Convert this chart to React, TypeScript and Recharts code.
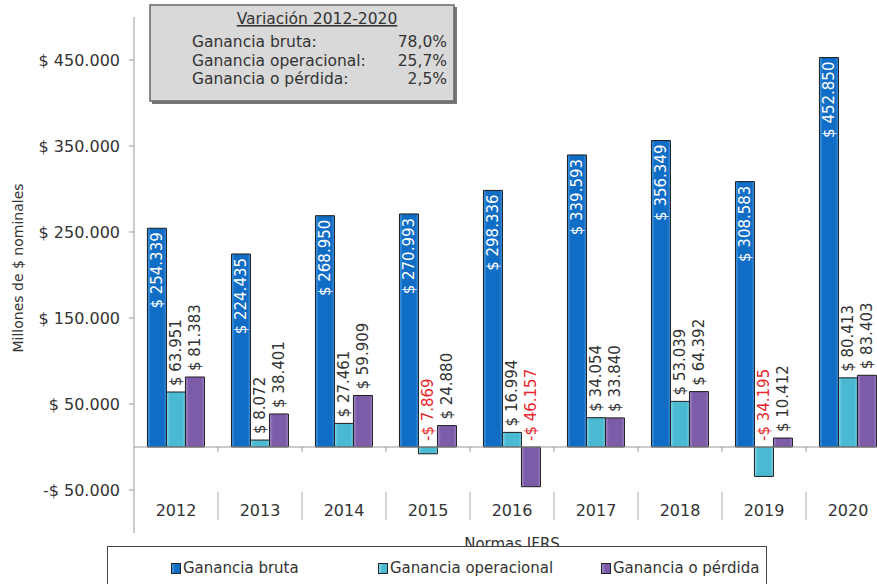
import React from 'react';
import { BarChart, Bar, XAxis, YAxis, ReferenceLine, LabelList, Legend } from 'recharts';

const years = ['2012', '2013', '2014', '2015', '2016', '2017', '2018', '2019', '2020'];
const gananciaBruta = [254339, 224435, 268950, 270993, 298336, 339593, 356349, 308583, 452850];
const gananciaOperacional = [63951, 8072, 27461, -7869, 16994, 34054, 53039, -34195, 80413];
const gananciaPerdida = [81383, 38401, 59909, 24880, -46157, 33840, 64392, 10412, 83403];
const yTicks = [-50000, 50000, 150000, 250000, 350000, 450000];
const variacionTitle = 'Variación 2012-2020';
const variacionLabels = ['Ganancia bruta:', 'Ganancia operacional:', 'Ganancia o pérdida:'];
const variacionValues = ['78,0%', '25,7%', '2,5%'];
const seriesKeys = ['bruta', 'operacional', 'perdida'];
const seriesNames = ['Ganancia bruta', 'Ganancia operacional', 'Ganancia o pérdida'];

const data = years.map((y, i) => ({
  year: y,
  bruta: gananciaBruta[i],
  operacional: gananciaOperacional[i],
  perdida: gananciaPerdida[i],
}));

const FONT = '"DejaVu Sans", Verdana, sans-serif';
const CHART_W = 900;
const CHART_H = 584;
const PLOT_TOP = 17;
const PLOT_BOTTOM = 533;
const PLOT_LEFT = 134;
const PLOT_RIGHT = 890;
const Y_MIN = -100000;
const Y_MAX = 500000;
const CAT_W = (PLOT_RIGHT - PLOT_LEFT) / years.length;
const ZERO_Y = PLOT_TOP + ((Y_MAX - 0) / (Y_MAX - Y_MIN)) * (PLOT_BOTTOM - PLOT_TOP);

const COLORS: Record<string, string> = { bruta: '#0F6DC6', operacional: '#4ABAD3', perdida: '#7C5BA8' };
const EDGE: Record<string, string> = { bruta: '#4A98E0', operacional: '#86D6EA', perdida: '#A58BCB' };

const fmt = (v: number) => {
  const s = Math.abs(v).toString().replace(/\B(?=(\d{3})+(?!\d))/g, '.');
  return (v < 0 ? '-' : '') + '$ ' + s;
};

const CategoryTick = (props: any) => {
  const { x, payload, index } = props;
  const half = CAT_W / 2;
  return (
    <g>
      <text x={x} y={516} textAnchor="middle" fontSize={16} fill="#333" fontFamily={FONT}>
        {payload.value}
      </text>
      {index < years.length - 1 && (
        <>
          <line x1={x + half} x2={x + half} y1={492} y2={520} stroke="#aaa" strokeWidth={1} />
          <line x1={x + half} x2={x + half} y1={ZERO_Y} y2={ZERO_Y + 5} stroke="#999" strokeWidth={1} />
        </>
      )}
    </g>
  );
};

const makeLabel = (inside: boolean) => (props: any) => {
  const { x, y, width, height, value } = props;
  const top = Math.min(y, y + height);
  const cx = x + width / 2;
  if (inside) {
    const ys = top + 4;
    return (
      <text
        x={cx}
        y={ys}
        transform={`rotate(-90, ${cx}, ${ys})`}
        textAnchor="end"
        dominantBaseline="central"
        fontSize={15}
        fill="#ffffff"
        fontFamily={FONT}
      >
        {fmt(value)}
      </text>
    );
  }
  const ys = top - 6;
  return (
    <text
      x={cx}
      y={ys}
      transform={`rotate(-90, ${cx}, ${ys})`}
      textAnchor="start"
      dominantBaseline="central"
      fontSize={15}
      fill={value < 0 ? '#E8262B' : '#333333'}
      fontFamily={FONT}
    >
      {fmt(value)}
    </text>
  );
};

const legendLeft = [63, 270, 493];

const LegendBox = (props: any) => {
  const payload = props.payload || [];
  return (
    <div
      style={{
        boxSizing: 'border-box',
        width: 660,
        height: 50,
        border: '1px solid #444',
        background: '#fff',
        position: 'relative',
        fontFamily: FONT,
        fontSize: 15,
        color: '#333',
      }}
    >
      {seriesKeys.map((key, i) => {
        const entry = payload.find((p: any) => p.dataKey === key);
        return (
          <div
            key={key}
            style={{ position: 'absolute', left: legendLeft[i], top: 12, display: 'flex', alignItems: 'center', whiteSpace: 'nowrap' }}
          >
            <span
              style={{
                display: 'inline-block',
                width: 8,
                height: 9,
                background: `linear-gradient(to right, ${EDGE[key]}, ${COLORS[key]} 40%, ${COLORS[key]})`,
                border: '1px solid #222',
                marginRight: 2,
              }}
            />
            <span>{entry ? entry.value : seriesNames[i]}</span>
          </div>
        );
      })}
    </div>
  );
};

export default function App() {
  return (
    <div
      style={{
        position: 'fixed',
        left: 0,
        top: 0,
        width: 877,
        height: 584,
        overflow: 'hidden',
        background: '#fff',
        fontFamily: FONT,
      }}
    >
      <BarChart
        width={CHART_W}
        height={CHART_H}
        data={data}
        margin={{ top: PLOT_TOP, right: CHART_W - PLOT_RIGHT, left: 0, bottom: CHART_H - PLOT_BOTTOM - 1 }}
        barCategoryGap="16%"
        barGap={0}
      >
        <defs>
          {seriesKeys.map((k) => (
            <linearGradient key={k} id={`grad-${k}`} x1="0" y1="0" x2="1" y2="0">
              <stop offset="0%" stopColor={EDGE[k]} />
              <stop offset="18%" stopColor={COLORS[k]} />
              <stop offset="85%" stopColor={COLORS[k]} />
              <stop offset="100%" stopColor={EDGE[k]} />
            </linearGradient>
          ))}
        </defs>
        <XAxis
          dataKey="year"
          height={1}
          axisLine={false}
          tickLine={false}
          interval={0}
          tick={<CategoryTick />}
          label={{
            content: () => (
              <text x={512} y={549} textAnchor="middle" fontSize={15} fill="#333" fontFamily={FONT}>
                Normas IFRS
              </text>
            ),
          }}
        />
        <YAxis
          width={PLOT_LEFT}
          domain={[Y_MIN, Y_MAX]}
          ticks={yTicks}
          interval={0}
          allowDataOverflow
          tickSize={5}
          tickMargin={9}
          axisLine={{ stroke: '#999' }}
          tickLine={{ stroke: '#999' }}
          tick={{ fontSize: 16, fill: '#333', fontFamily: FONT }}
          tickFormatter={(v: number) => fmt(v)}
          label={{
            content: () => (
              <text
                x={18}
                y={268}
                transform="rotate(-90, 18, 268)"
                textAnchor="middle"
                dominantBaseline="central"
                fontSize={14}
                fill="#333"
                fontFamily={FONT}
              >
                Millones de $ nominales
              </text>
            ),
          }}
        />
        <ReferenceLine y={0} stroke="#999" strokeWidth={1} />
        <Bar dataKey="bruta" name={seriesNames[0]} fill="url(#grad-bruta)" stroke="#1c1c1c" strokeWidth={1} isAnimationActive={false}>
          <LabelList dataKey="bruta" content={makeLabel(true)} />
        </Bar>
        <Bar dataKey="operacional" name={seriesNames[1]} fill="url(#grad-operacional)" stroke="#1c1c1c" strokeWidth={1} isAnimationActive={false}>
          <LabelList dataKey="operacional" content={makeLabel(false)} />
        </Bar>
        <Bar dataKey="perdida" name={seriesNames[2]} fill="url(#grad-perdida)" stroke="#1c1c1c" strokeWidth={1} isAnimationActive={false}>
          <LabelList dataKey="perdida" content={makeLabel(false)} />
        </Bar>
        <Legend
          layout="horizontal"
          verticalAlign="middle"
          align="center"
          wrapperStyle={{ left: 107, top: 546, width: 660, height: 50 }}
          content={(p: any) => <LegendBox payload={p.payload} />}
        />
      </BarChart>
      <svg
        width={877}
        height={110}
        style={{ position: 'absolute', left: 0, top: 0, pointerEvents: 'none' }}
        fontFamily={FONT}
      >
        <rect x={152} y={7} width={305} height={97} fill="#777" />
        <rect x={150} y={5} width={304} height={96} fill="#D9D9D9" stroke="#666" strokeWidth={1.5} />
        <text x={317} y={24} textAnchor="middle" fontSize={15.5} fill="#333" textDecoration="underline">
          {variacionTitle}
        </text>
        {variacionLabels.map((l, i) => (
          <g key={l}>
            <text x={192} y={47 + i * 18.7} fontSize={15.5} fill="#333">
              {l}
            </text>
            <text x={447} y={47 + i * 18.7} fontSize={15.5} fill="#333" textAnchor="end">
              {variacionValues[i]}
            </text>
          </g>
        ))}
      </svg>
    </div>
  );
}
